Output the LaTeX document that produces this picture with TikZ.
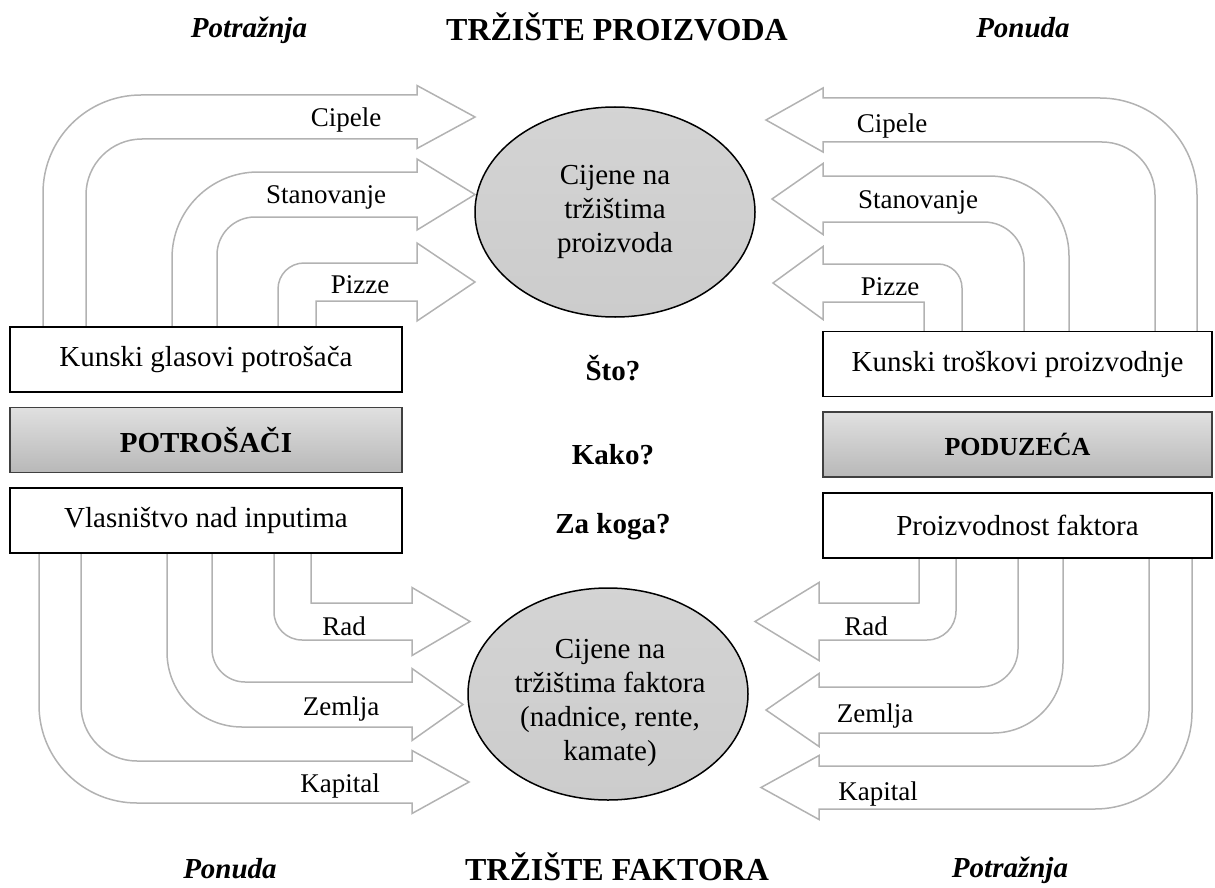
\documentclass[tikz,border=0pt]{standalone}
\usepackage{fontspec}
\setmainfont{Liberation Serif}
\usetikzlibrary{shapes.geometric,positioning}

\definecolor{flowgray}{RGB}{178,178,178}
\definecolor{boxtop}{RGB}{224,224,224}
\definecolor{boxbot}{RGB}{184,184,184}
\definecolor{ovalgray}{RGB}{204,204,204}

\tikzset{
  flow/.style={draw=flowgray, line width=1.5pt, line join=miter},
  whitebox/.style={draw=black, line width=1.8pt, fill=white, minimum width=392pt,
    minimum height=65pt, inner sep=0pt},
  graybox/.style={whitebox, draw=black!75, line width=1.5pt, top color=boxtop,
    bottom color=boxbot, font=\fontsize{29}{34}\selectfont\bfseries},
  price/.style={ellipse, draw=black, line width=1.5pt, top color=ovalgray!85,
    bottom color=ovalgray, align=center, inner sep=0pt, minimum width=280pt},
  good/.style={anchor=base, font=\fontsize{27}{32}\selectfont},
  question/.style={anchor=base, font=\fontsize{29}{34}\selectfont\bfseries},
  market/.style={anchor=base, font=\fontsize{32}{36}\selectfont\bfseries},
  side/.style={anchor=base, font=\fontsize{29}{34}\selectfont\bfseries\itshape}
}

% bent block arrow: xo, xi, yo, yi, xb, xt, Ro, Ri, hh (uses \sgnx, \sgny, \ybase)
\newcommand{\bentarrow}[9]{%
  \pgfmathsetmacro\ymid{(#3+#4)/2}
  \draw[flow] (#1,\ybase) -- (#1,{#3+\sgny*#7})
    arc[start angle={90+90*\sgnx}, delta angle={90*\sgnx*\sgny}, radius=#7]
    -- (#5,#3) -- (#5,{\ymid-\sgny*#9}) -- (#6,\ymid) -- (#5,{\ymid+\sgny*#9})
    -- (#5,#4) -- ({#2+\sgnx*#8},#4)
    arc[start angle={90+90*\sgnx+90*\sgnx*\sgny}, delta angle={-90*\sgnx*\sgny}, radius=#8]
    -- (#2,\ybase);
}

\begin{document}
\begin{tikzpicture}[x=1pt, y=-1pt, font=\fontsize{29}{34}\selectfont]
\useasboundingbox (0,0) rectangle (1215,888);

% trziste proizvoda - potrosaci
\def\sgnx{1}\def\sgny{1}\def\ybase{327}
\bentarrow{43}{86}{95}{139}{417}{475}{98}{56}{31.5}
\bentarrow{172}{217}{172}{217}{417}{475}{86}{38}{35.5}
\bentarrow{278}{316}{263}{301}{417}{475}{26}{0.01}{39}
% trziste proizvoda - poduzeca
\def\sgnx{(-1)}\def\sgny{1}\def\ybase{332}
\bentarrow{1197}{1155}{98}{142}{823}{766}{97}{53}{32}
\bentarrow{1069}{1024}{176}{222}{823}{772}{80}{40}{35.5}
\bentarrow{962}{924}{264}{302}{823}{773}{24}{0.01}{36.5}
% trziste faktora - potrosaci
\def\sgnx{1}\def\sgny{(-1)}\def\ybase{550}
\bentarrow{274}{311}{640}{603}{412}{470}{28}{0.01}{34}
\bentarrow{167}{212}{727}{682}{412}{463}{75}{33}{36}
\bentarrow{39}{81}{803}{761}{412}{469}{98}{56}{31.5}
% trziste faktora - poduzeca
\def\sgnx{(-1)}\def\sgny{(-1)}\def\ybase{554}
\bentarrow{956}{919}{640}{603}{819}{755}{29}{0.01}{39}
\bentarrow{1063}{1018}{733}{687}{819}{766}{70}{38}{36.5}
\bentarrow{1192}{1149}{809}{766}{819}{761}{97}{55}{32}

% labels on the flows
\node[good] (lcip) at (346,127) {Cipele};
\node[good] (lstan) at (326,203) {Stanovanje};
\node[good] (lpiz) at (360,293) {Pizze};
\node[good] (rcip) at (892,132) {Cipele};
\node[good] (rstan) at (918,208) {Stanovanje};
\node[good] (rpiz) at (890,295) {Pizze};
\node[good] (lrad) at (344,635) {Rad};
\node[good] (lzem) at (341,715) {Zemlja};
\node[good] (lkap) at (340,792) {Kapital};
\node[good] (rrad) at (866,635) {Rad};
\node[good] (rzem) at (875,722) {Zemlja};
\node[good] (rkap) at (878,800) {Kapital};

% potrosaci
\node[whitebox] (kgp) at (206,359.5) {Kunski glasovi potrošača};
\node[graybox, below=14pt of kgp] (potr) {POTROŠAČI};
\node[whitebox, below=14pt of potr] (vni) {Vlasništvo nad inputima};

% poduzeca
\node[whitebox, minimum width=389pt] (ktp) at (1017.5,364) {Kunski troškovi proizvodnje};
\node[graybox, minimum width=389pt, font=\fontsize{26}{30}\selectfont\bfseries,
  below=14pt of ktp] (podu) {PODUZEĆA};
\node[whitebox, minimum width=389pt, below=14pt of podu] (pf) {Proizvodnost faktora};

% cijene
\node[price, minimum height=210pt] (cp) at (615,212) {Cijene na\\tržištima\\proizvoda};
\node[price, minimum height=212pt] (cf) at (608,694) {};
\node[align=center] (cft) at (610,703)
  {Cijene na\\tržištima faktora\\(nadnice, rente,\\kamate)};

% pitanja
\node[question] (sto) at (613,380) {Što?};
\node[question] (kako) at (613,464) {Kako?};
\node[question] (zakoga) at (613,533) {Za koga?};

% naslovi
\node[side] (pot1) at (249,38) {Potražnja};
\node[market] (tp) at (617,41) {TRŽIŠTE PROIZVODA};
\node[side] (pon1) at (1023,38) {Ponuda};
\node[side] (pon2) at (230,878) {Ponuda};
\node[market] (tf) at (617,880) {TRŽIŠTE FAKTORA};
\node[side] (pot2) at (1010,877) {Potražnja};
\end{tikzpicture}
\end{document}
